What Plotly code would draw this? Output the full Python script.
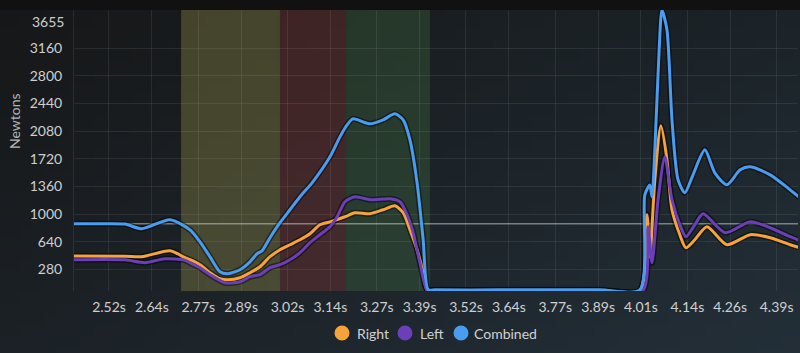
import zlib, struct, base64
import plotly.graph_objects as go

# ---------------- data ----------------
t_combined = [2.422, 2.495, 2.565, 2.612, 2.691, 2.747, 2.775, 2.803, 2.831, 2.853, 2.887, 2.915,
              2.935, 2.949, 2.971, 2.999, 3.027, 3.055, 3.091, 3.139, 3.167, 3.187, 3.203, 3.251,
              3.288, 3.321, 3.344, 3.363, 3.383, 3.400, 3.414, 3.433, 3.615, 3.895, 4.007, 4.021,
              4.035, 4.041, 4.049, 4.061, 4.069, 4.083, 4.097, 4.114, 4.133, 4.156, 4.189, 4.217,
              4.251, 4.288, 4.316, 4.372, 4.428, 4.456]
v_combined = [875, 875, 870, 810, 927, 796, 640, 444, 250, 225, 277, 380,
              485, 524, 693, 888, 1057, 1226, 1420, 1745, 2005, 2161, 2239, 2174,
              2226, 2304, 2226, 1966, 1407, 667, 17, 15, 15, 15, 15, 1250,
              1380, 1224, 1836, 3135, 3655, 3395, 2226, 1447, 1278, 1512, 1836, 1537,
              1381, 1576, 1615, 1511, 1316, 1212]

t_right = [2.422, 2.565, 2.612, 2.691, 2.733, 2.747, 2.775, 2.803, 2.831, 2.853, 2.887, 2.915,
           2.943, 2.971, 2.999, 3.027, 3.055, 3.083, 3.111, 3.139, 3.181, 3.209, 3.251, 3.288,
           3.321, 3.344, 3.363, 3.383, 3.400, 3.411, 3.433, 3.615, 3.895, 4.007, 4.027, 4.035,
           4.049, 4.066, 4.083, 4.097, 4.119, 4.136, 4.161, 4.195, 4.251, 4.316, 4.372, 4.428, 4.456]
v_right = [455, 452, 446, 524, 433, 407, 342, 238, 160, 147, 173, 238,
           316, 446, 537, 602, 667, 745, 862, 900, 966, 1018, 1005, 1057,
           1109, 1018, 797, 537, 238, 12, 8, 8, 8, 8, 991, 446,
           1447, 2148, 1706, 1056, 732, 563, 667, 836, 602, 732, 693, 602, 563]

t_left = [2.422, 2.565, 2.621, 2.677, 2.733, 2.747, 2.775, 2.803, 2.845, 2.887, 2.915, 2.943,
          2.971, 2.999, 3.027, 3.055, 3.083, 3.111, 3.139, 3.159, 3.181, 3.209, 3.251, 3.307,
          3.335, 3.355, 3.372, 3.391, 3.411, 3.433, 3.615, 3.895, 4.016, 4.030, 4.041, 4.058,
          4.077, 4.097, 4.119, 4.136, 4.161, 4.184, 4.246, 4.316, 4.372, 4.428, 4.456]
v_left = [407, 405, 368, 420, 400, 368, 303, 212, 108, 121, 186, 212,
          303, 342, 407, 498, 628, 732, 836, 966, 1161, 1226, 1187, 1200,
          1161, 992, 758, 368, 12, 8, 8, 8, 8, 836, 368, 1187,
          1745, 1187, 862, 706, 862, 1005, 758, 901, 823, 706, 654]

series_names = ["Right", "Left", "Combined"]
series_colors = ["#F5A33A", "#6A3FB8", "#4A9CF0"]

x_tick_vals = [2.52, 2.64, 2.77, 2.89, 3.02, 3.14, 3.27, 3.39, 3.52, 3.64, 3.77, 3.89, 4.01, 4.14, 4.26, 4.39]
x_tick_text = ["2.52s", "2.64s", "2.77s", "2.89s", "3.02s", "3.14s", "3.27s", "3.39s",
               "3.52s", "3.64s", "3.77s", "3.89s", "4.01s", "4.14s", "4.26s", "4.39s"]
y_tick_vals = [280, 640, 1000, 1360, 1720, 2080, 2440, 2800, 3160, 3655]
y_tick_text = ["280", "640", "1000", "1360", "1720", "2080", "2440", "2800", "3160", ""]
y_max_label = "3655"

phase_starts = [2.722, 2.999, 3.184]
phase_ends = [2.999, 3.184, 3.419]
phase_colors = ["rgba(177,167,79,0.30)", "rgba(154,57,53,0.30)", "rgba(70,120,67,0.30)"]
body_weight = 875

# ---------------- geometry ----------------
W, H = 800, 353
ML, MR, MT, MB = 74, 2, 10, 62
PW, PH = W - ML - MR, H - MT - MB


def px2paper_x(px):
    return (px - ML) / PW


def px2paper_y(py):
    return (H - MB - py) / PH


# ---------------- background gradient image ----------------
def make_png(w, h, fn):
    raw = bytearray()
    for j in range(h):
        raw.append(0)
        for i in range(w):
            raw.extend(fn(i / (w - 1), j / (h - 1)))

    def chunk(tag, data):
        c = struct.pack('>I', len(data)) + tag + data
        return c + struct.pack('>I', zlib.crc32(tag + data) & 0xffffffff)

    png = (b'\x89PNG\r\n\x1a\n' + chunk(b'IHDR', struct.pack('>IIBBBBB', w, h, 8, 2, 0, 0, 0))
           + chunk(b'IDAT', zlib.compress(bytes(raw))) + chunk(b'IEND', b''))
    return 'data:image/png;base64,' + base64.b64encode(png).decode()


TL, TR, BL, BR = (0x16, 0x17, 0x18), (0x1b, 0x23, 0x28), (0x1b, 0x21, 0x26), (0x23, 0x2f, 0x38)


def grad(u, v):
    return bytes(int(round((1 - u) * (1 - v) * TL[k] + u * (1 - v) * TR[k] + (1 - u) * v * BL[k] + u * v * BR[k]))
                 for k in range(3))


bg_uri = make_png(64, 32, grad)

fig = go.Figure()

ts = [t_right, t_left, t_combined]
vs = [v_right, v_left, v_combined]

# shadows
for t, v in zip(ts, vs):
    fig.add_trace(go.Scatter(x=t, y=v, mode="lines", showlegend=False, hoverinfo="skip",
                             line=dict(color="rgba(0,0,0,0.45)", width=6, shape="spline", smoothing=0.7)))
for name, color, t, v in zip(series_names, series_colors, ts, vs):
    fig.add_trace(go.Scatter(x=t, y=v, mode="lines", name=name, showlegend=False,
                             line=dict(color=color, width=3, shape="spline", smoothing=0.7)))

shapes = []
for s, e, c in zip(phase_starts, phase_ends, phase_colors):
    shapes.append(dict(type="rect", xref="x", yref="paper", x0=s, x1=e, y0=0, y1=1,
                       fillcolor=c, line=dict(width=0), layer="below"))
# top dark band
shapes.append(dict(type="rect", xref="paper", yref="paper", x0=-0.2, x1=1.1, y0=1, y1=1.2,
                   fillcolor="#111111", line=dict(width=0), layer="below"))
# body-weight line
shapes.append(dict(type="line", xref="paper", yref="y", x0=0, x1=1, y0=body_weight, y1=body_weight,
                   line=dict(color="rgba(200,200,200,0.55)", width=1.5), layer="between"))

annotations = []
# custom legend
legend_cx = [342, 405, 461]
legend_tx = [355, 418, 472]
ly = 333
for name, color, cx, tx in zip(series_names, series_colors, legend_cx, legend_tx):
    shapes.append(dict(type="circle", xref="paper", yref="paper", xsizemode="pixel", ysizemode="pixel",
                       xanchor=px2paper_x(cx), yanchor=px2paper_y(ly), x0=-7.5, x1=7.5, y0=-7.5, y1=7.5,
                       fillcolor=color, line=dict(width=0)))
    annotations.append(dict(text=name, x=px2paper_x(tx), y=px2paper_y(ly), xref="paper", yref="paper",
                            xanchor="left", yanchor="middle", showarrow=False,
                            font=dict(family="Lato", size=14, color="#d2d2d2")))

annotations.append(dict(text=y_max_label, x=px2paper_x(66), y=px2paper_y(22), xref="paper", yref="paper",
                        xanchor="right", yanchor="middle", showarrow=False,
                        font=dict(family="Lato", size=14, color="#cfcfcf")))
annotations.append(dict(text="Newtons", x=px2paper_x(15), y=px2paper_y(121), xref="paper", yref="paper",
                        xanchor="center", yanchor="middle", textangle=-90, showarrow=False,
                        font=dict(family="Lato", size=14, color="#b4b4b4")))

grid = "rgba(255,255,255,0.08)"
fig.update_layout(
    width=W, height=H,
    margin=dict(l=ML, r=MR, t=MT, b=MB, autoexpand=False),
    paper_bgcolor="#1b2127", plot_bgcolor="rgba(0,0,0,0)",
    showlegend=False,
    font=dict(family="Lato", size=14, color="#cfcfcf"),
    images=[dict(source=bg_uri, xref="paper", yref="paper", x=-ML / PW, y=1 + MT / PH,
                 sizex=W / PW, sizey=H / PH, xanchor="left", yanchor="top",
                 sizing="stretch", layer="below")],
    shapes=shapes,
    annotations=annotations,
    xaxis=dict(range=[2.422, 2.422 + PW / 357.0], tickvals=x_tick_vals, ticktext=x_tick_text,
               showgrid=True, gridcolor=grid, gridwidth=1, zeroline=False, showline=False,
               ticks="", ticklabelstandoff=6, tickfont=dict(family="Lato", size=14, color="#cfcfcf"),
               fixedrange=True),
    yaxis=dict(range=[0, 3655], tickvals=y_tick_vals, ticktext=y_tick_text,
               showgrid=True, gridcolor=grid, gridwidth=1, zeroline=False,
               showline=True, linecolor=grid, linewidth=1,
               ticks="", ticklabelstandoff=8, tickfont=dict(family="Lato", size=14, color="#cfcfcf"),
               fixedrange=True),
)

fig.write_html("out.html")
